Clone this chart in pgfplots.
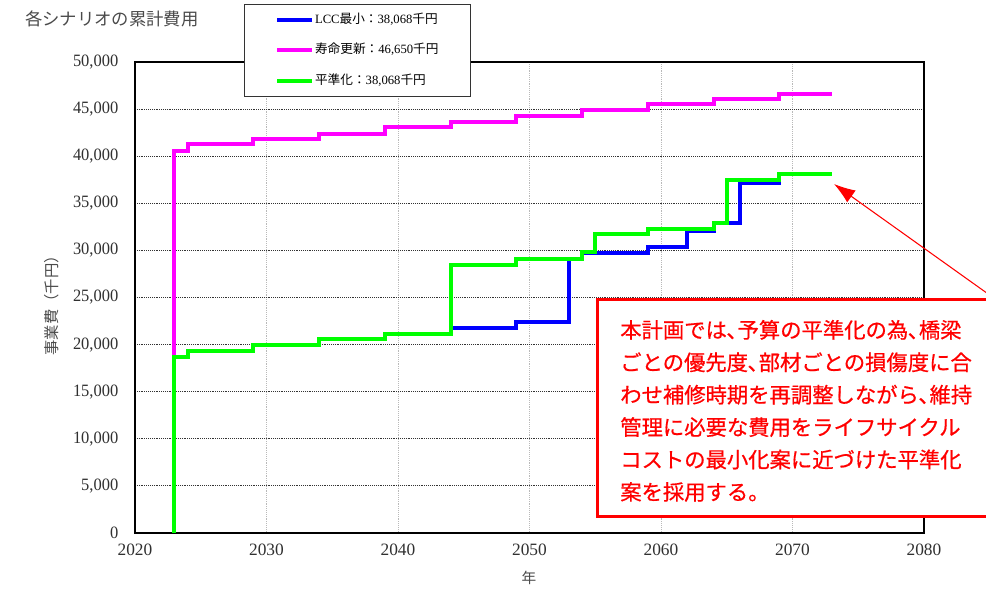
\documentclass[border=0pt]{standalone}
\usepackage{pgfplots}
\pgfplotsset{compat=1.18}
\usepackage{pgfplotstable}
\usepackage{graphicx}
\usepackage{fontspec}
\setmainfont{Liberation Serif}
\newfontfamily\jp{Noto Sans CJK JP}
\newfontfamily\jpnote[FakeBold=0.6]{Noto Sans CJK JP}
\usetikzlibrary{arrows.meta}

\definecolor{lccblue}{HTML}{0000FF}
\definecolor{lifemag}{HTML}{FF00FF}
\definecolor{flatgreen}{HTML}{00FF00}
\definecolor{titlegray}{HTML}{4A4A4A}
\definecolor{tickgray}{HTML}{303030}

% cumulative cost, each row starts a new level (thousand yen)
\pgfplotstableread{
year cost
2023 0
2023 18720
2024 19330
2029 19960
2034 20560
2039 21130
2044 21750
2049 22430
2053 29050
2054 29760
2059 30330
2062 32050
2064 32870
2066 37200
2069 38068
2073 38068
}\lcc

\pgfplotstableread{
year cost
2023 0
2023 40600
2024 41250
2029 41800
2034 42400
2039 43050
2044 43630
2049 44300
2054 44900
2059 45500
2064 46070
2069 46650
2073 46650
}\life

\pgfplotstableread{
year cost
2023 0
2023 18720
2024 19330
2029 19960
2034 20560
2039 21130
2044 28500
2049 29080
2054 29780
2055 31740
2059 32270
2064 32870
2065 37450
2069 38068
2073 38068
}\flat

\begin{document}
\begin{tikzpicture}
\begin{axis}[
    scale only axis,
    width=591.75pt, height=353.25pt,
    xmin=2020, xmax=2080,
    ymin=0, ymax=50000,
    xtick={2020,2030,...,2080},
    ytick={0,5000,...,50000},
    scaled y ticks=false,
    major tick length=0pt,
    axis line style={black, line width=0.9pt},
    xmajorgrids, ymajorgrids,
    x grid style={gray!55, densely dotted, line width=0.7pt},
    y grid style={black!80, densely dotted, line width=0.7pt},
    /pgf/number format/assume math mode=true,
    ticklabel style={font=\fontsize{13}{15}\selectfont, text=tickgray},
    xticklabel style={/pgf/number format/1000 sep={}, yshift=-5pt},
    yticklabel style={/pgf/number format/1000 sep={,}, xshift=-9pt},
    yticklabel={\scalebox{0.95}[1]{\pgfmathprintnumber{\tick}}},
    clip=false,
    legend cell align=left,
    legend image code/.code={\draw[#1] (0pt,0pt) -- (26pt,0pt);},
    legend style={
        at={(0.1381,1.1231)}, anchor=north west,
        draw=black!80, line width=0.6pt, fill=white,
        inner xsep=23pt, inner ysep=6pt,
        row sep=12pt,
        font=\fontsize{9.5}{11}\selectfont,
        nodes={inner sep=1pt, text height=7pt, text depth=2pt},
    },
]
\addplot[const plot, color=lccblue, line width=3pt] table[x=year, y=cost] {\lcc};
\addlegendentry{LCC{\jp 最小：}38,068{\jp 千円}}
\addplot[const plot, color=lifemag, line width=3pt] table[x=year, y=cost] {\life};
\addlegendentry{{\jp 寿命更新：}46,650{\jp 千円}}
\addplot[const plot, color=flatgreen, line width=3pt] table[x=year, y=cost] {\flat};
\addlegendentry{{\jp 平準化：}38,068{\jp 千円}}
\end{axis}

% overlay in reference pixel coordinates (origin top left)
\begin{scope}[x=0.75pt, y=-0.75pt, shift={(-101.25pt,399.75pt)}]
  \node[anchor=west, inner sep=0pt, text=titlegray, font=\jp\fontsize{13}{15}\selectfont]
    at (25,19) {各シナリオの累計費用};
  \node[rotate=90, inner sep=0pt, text=titlegray, font=\jp\fontsize{11.5}{13}\selectfont]
    at (52,302) {事業費（千円）};
  \node[inner sep=0pt, text=titlegray, font=\jp\fontsize{11}{13}\selectfont]
    at (529,578) {年};
  \draw[red, line width=0.8pt, -{Latex[length=16pt, width=11pt]}] (1012,311) -- (834,184);
  \draw[red, line width=2.25pt, fill=white] (597,300) rectangle (1010,517);
  \begin{scope}[every node/.style={anchor=base west, inner sep=0pt, text=red,
      font=\jpnote\fontsize{16}{18}\selectfont}]
    \node at (620,338) {本計画では､予算の平準化の為､橋梁};
    \node at (620,370.4) {ごとの優先度､部材ごとの損傷度に合};
    \node at (620,402.8) {わせ補修時期を再調整しながら､維持};
    \node at (620,435.2) {管理に必要な費用をライフサイクル};
    \node at (620,467.6) {コストの最小化案に近づけた平準化};
    \node at (620,500) {案を採用する。};
  \end{scope}
  \pgfresetboundingbox
  \path[use as bounding box] (0,0) rectangle (986,589);
\end{scope}
\end{tikzpicture}
\end{document}
